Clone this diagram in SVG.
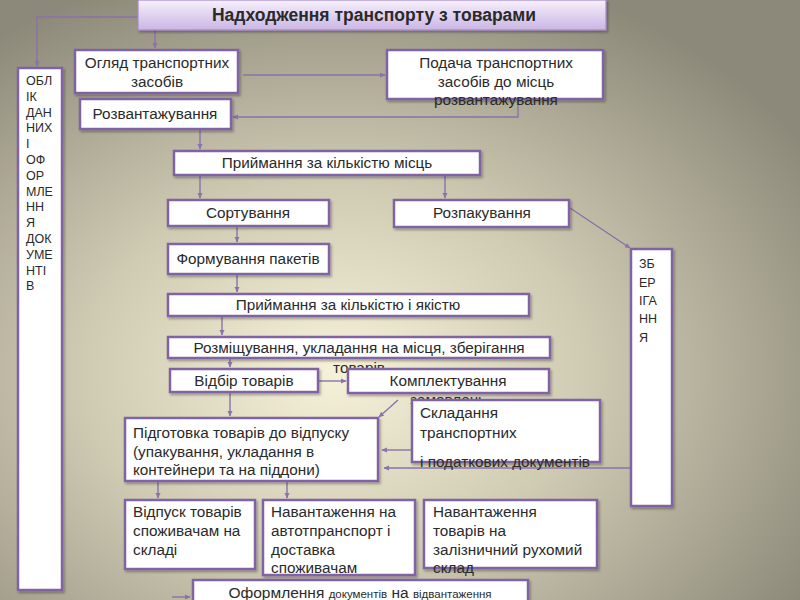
<svg xmlns="http://www.w3.org/2000/svg" width="800" height="600" viewBox="0 0 800 600">
<defs>
<radialGradient id="bg" cx="0.42" cy="0.62" r="0.7">
<stop offset="0" stop-color="#f6f1d9"/>
<stop offset="0.45" stop-color="#cfcab2"/>
<stop offset="1" stop-color="#8c897a"/>
</radialGradient>
<linearGradient id="tg" x1="0" y1="0" x2="0" y2="1">
<stop offset="0" stop-color="#f6f0fc"/>
<stop offset="1" stop-color="#cbb6e4"/>
</linearGradient>
<filter id="sh" x="-10%" y="-10%" width="130%" height="140%">
<feDropShadow dx="1.5" dy="2" stdDeviation="1.2" flood-color="#000" flood-opacity="0.3"/>
</filter>
<marker id="ar" markerWidth="6" markerHeight="6" refX="5" refY="3" orient="auto" markerUnits="userSpaceOnUse">
<path d="M0,0.5 L5.5,3 L0,5.5 z" fill="#8a72aa"/>
</marker>
</defs>
<style>
.bx{fill:#fff;stroke:#8064a2;stroke-width:2.5;filter:url(#sh)}
.t{font-family:"Liberation Sans",Arial,sans-serif;font-size:15.3px;fill:#2a2a2a}
.c{text-anchor:middle}
.v{font-family:"Liberation Sans",Arial,sans-serif;font-size:12.5px;fill:#2a2a2a}
.cn{fill:none;stroke:#8a72aa;stroke-width:1.4;marker-end:url(#ar)}
</style>
<rect width="800" height="600" fill="url(#bg)"/>
<g id="connectors">
<path class="cn" d="M138,17 H37 V66"/>
<path class="cn" d="M155,30 V48"/>
<path class="cn" d="M243,75 H385"/>
<path class="cn" d="M518,99 V117 H233"/>
<path class="cn" d="M200,129 V149"/>
<path class="cn" d="M200,175 V198"/>
<path class="cn" d="M445,175 V198"/>
<path class="cn" d="M570,208 L630,248"/>
<path class="cn" d="M237,226 V242"/>
<path class="cn" d="M237,274 V292"/>
<path class="cn" d="M222,316 V335"/>
<path class="cn" d="M230,358 V367"/>
<path class="cn" d="M318,381 H346"/>
<path class="cn" d="M230,392 V416"/>
<path class="cn" d="M398,400 L379,417"/>
<path class="cn" d="M412,450 H382"/>
<path class="cn" d="M631,468 H384"/>
<path class="cn" d="M158,481 V498"/>
<path class="cn" d="M287,481 V498"/>
<path class="cn" d="M172,597 H190"/>
</g>
<g id="title">
<rect x="138" y="0" width="468" height="30" fill="url(#tg)" stroke="#a58bc8" stroke-width="1.2" filter="url(#sh)"/>
<text class="t c" x="374" y="21" style="font-weight:bold;font-size:17.5px">Надходження транспорту з товарами</text>
</g>
<g id="oblik">
<rect class="bx" x="18" y="68" width="44" height="522"/>
<text class="v" x="26"><tspan x="26" y="85">ОБЛ</tspan><tspan x="26" y="101">ІК</tspan><tspan x="26" y="117">ДАН</tspan><tspan x="26" y="132">НИХ</tspan><tspan x="26" y="148">І</tspan><tspan x="26" y="164">ОФ</tspan><tspan x="26" y="180">ОР</tspan><tspan x="26" y="196">МЛЕ</tspan><tspan x="26" y="211">НН</tspan><tspan x="26" y="227">Я</tspan><tspan x="26" y="243">ДОК</tspan><tspan x="26" y="259">УМЕ</tspan><tspan x="26" y="275">НТІ</tspan><tspan x="26" y="290">В</tspan></text>
</g>
<g id="ogliad">
<rect class="bx" x="75" y="50" width="163" height="43"/>
<text class="t c" x="157"><tspan x="157" y="68">Огляд транспортних</tspan><tspan x="157" y="87">засобів</tspan></text>
</g>
<g id="podacha">
<rect class="bx" x="387" y="50" width="216" height="49"/>
<text class="t c" x="496"><tspan x="496" y="68">Подача транспортних</tspan><tspan x="496" y="87">засобів до місць</tspan><tspan x="496" y="105">розвантажування</tspan></text>
</g>
<g id="rozvant">
<rect class="bx" x="80" y="99" width="151" height="30"/>
<text class="t c" x="155" y="119">Розвантажування</text>
</g>
<g id="pryim1">
<rect class="bx" x="174" y="151" width="306" height="24"/>
<text class="t c" x="327" y="168">Приймання за кількістю місць</text>
</g>
<g id="sort">
<rect class="bx" x="168" y="200" width="161" height="26"/>
<text class="t c" x="248" y="218">Сортування</text>
</g>
<g id="rozpak">
<rect class="bx" x="394" y="200" width="175" height="27"/>
<text class="t c" x="482" y="218">Розпакування</text>
</g>
<g id="zberig">
<rect class="bx" x="631" y="249" width="41" height="257"/>
<text class="v" x="639"><tspan x="639" y="268">ЗБ</tspan><tspan x="639" y="287">ЕР</tspan><tspan x="639" y="305">ІГА</tspan><tspan x="639" y="323">НН</tspan><tspan x="639" y="342">Я</tspan></text>
</g>
<g id="form">
<rect class="bx" x="168" y="244" width="161" height="30"/>
<text class="t c" x="248" y="264">Формування пакетів</text>
</g>
<g id="pryim2">
<rect class="bx" x="168" y="294" width="361" height="22"/>
<text class="t c" x="348" y="310">Приймання за кількістю і якістю</text>
</g>
<g id="rozmish">
<rect class="bx" x="168" y="337" width="382" height="21"/>
<text class="t c" x="359"><tspan x="359" y="353">Розміщування, укладання на місця, зберігання</tspan><tspan x="359" y="373">товарів</tspan></text>
</g>
<g id="vidbir">
<rect class="bx" x="170" y="369" width="148" height="23"/>
<text class="t c" x="244" y="386">Відбір товарів</text>
</g>
<g id="kompl">
<rect class="bx" x="348" y="369" width="201" height="24"/>
<text class="t c" x="448"><tspan x="448" y="386">Комплектування</tspan><tspan x="448" y="405">замовлень</tspan></text>
</g>
<g id="sklad">
<rect class="bx" x="412" y="400" width="188" height="62"/>
<text class="t" x="420"><tspan x="420" y="418">Складання</tspan><tspan x="420" y="438">транспортних</tspan><tspan x="420" y="467">і податкових документів</tspan></text>
</g>
<g id="pidgot">
<rect class="bx" x="125" y="418" width="253" height="63"/>
<text class="t" x="133"><tspan x="133" y="438">Підготовка товарів до відпуску</tspan><tspan x="133" y="457">(упакування, укладання в</tspan><tspan x="133" y="475">контейнери та на піддони)</tspan></text>
</g>
<g id="vidpusk">
<rect class="bx" x="125" y="500" width="130" height="69"/>
<text class="t" x="133"><tspan x="133" y="517">Відпуск товарів</tspan><tspan x="133" y="536">споживачам на</tspan><tspan x="133" y="555">складі</tspan></text>
</g>
<g id="navant1">
<rect class="bx" x="263" y="500" width="152" height="75"/>
<text class="t" x="271"><tspan x="271" y="517">Навантаження на</tspan><tspan x="271" y="536">автотпранспорт і</tspan><tspan x="271" y="555">доставка</tspan><tspan x="271" y="573">споживачам</tspan></text>
</g>
<g id="navant2">
<rect class="bx" x="424" y="500" width="173" height="68"/>
<text class="t" x="433"><tspan x="433" y="517">Навантаження</tspan><tspan x="433" y="536">товарів на</tspan><tspan x="433" y="555">залізничний рухомий</tspan><tspan x="433" y="573">склад</tspan></text>
</g>
<g id="oform">
<rect class="bx" x="193" y="580" width="335" height="30"/>
<text class="t c" x="360" y="598" style="font-size:15.5px">Оформлення <tspan style="font-size:11.5px">документів</tspan> на <tspan style="font-size:11.5px">відвантаження</tspan></text>
</g>
</svg>
